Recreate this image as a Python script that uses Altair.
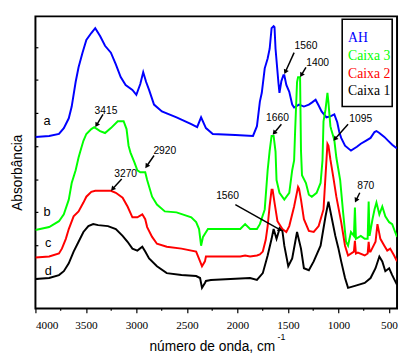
import math
import altair as alt
import pandas as pd

# ---------------- data ----------------
BLUE_W = [4000, 3864, 3767, 3719, 3670, 3641, 3602, 3573, 3534, 3496,
          3447, 3408, 3360, 3311, 3253, 3204, 3156, 3107, 3040, 3001,
          2962, 2933, 2904, 2875, 2826, 2748, 2603, 2457, 2399, 2360,
          2312, 2244, 2021, 1846, 1807, 1778, 1759, 1730, 1701, 1681,
          1662, 1642, 1633, 1623, 1594, 1584, 1565, 1545, 1536, 1516,
          1487, 1458, 1439, 1390, 1342, 1293, 1264, 1226, 1196, 1167,
          1119, 1080, 1041, 1012, 992, 973, 935, 876, 817, 779,
          730, 682, 643, 624, 595, 546, 507, 468, 430, 420]
BLUE_A = [175, 176, 178, 184, 194, 206, 231, 246, 261, 274,
          281, 286, 278, 268, 261, 249, 236, 228, 223, 218,
          229, 241, 231, 223, 208, 201, 195, 188, 185, 195,
          184, 178, 177, 176, 186, 211, 220, 245, 255, 265,
          286, 288, 287, 265, 230, 220, 232, 238, 238, 228,
          221, 208, 205, 208, 206, 208, 210, 213, 207, 201,
          195, 196, 198, 190, 180, 174, 166, 161, 165, 168,
          171, 174, 180, 181, 179, 175, 171, 167, 164, 164]

GREEN_W = [4000, 3864, 3767, 3719, 3670, 3641, 3602, 3573, 3554, 3525,
           3496, 3447, 3418, 3360, 3311, 3253, 3185, 3127, 3098, 3078,
           3059, 3020, 2991, 2962, 2913, 2894, 2845, 2797, 2719, 2603,
           2457, 2409, 2380, 2360, 2341, 2292, 1972, 1924, 1875, 1807,
           1778, 1730, 1701, 1681, 1662, 1642, 1623, 1613, 1584, 1536,
           1487, 1458, 1439, 1429, 1410, 1400, 1380, 1371, 1361, 1322,
           1293, 1264, 1216, 1177, 1158, 1148, 1128, 1109, 1099, 1080,
           1070, 1041, 1021, 983, 954, 925, 905, 876, 847, 837,
           827, 779, 740, 711, 701, 692, 663, 643, 624, 595,
           566, 536, 498, 468, 439, 420]
GREEN_A = [80, 83, 89, 96, 111, 128, 141, 154, 161, 171,
           178, 183, 185, 181, 179, 184, 191, 191, 183, 166,
           159, 149, 141, 139, 139, 131, 114, 106, 99, 98,
           93, 88, 81, 64, 73, 81, 81, 86, 81, 81,
           86, 101, 141, 161, 176, 176, 160, 131, 118, 111,
           118, 141, 151, 181, 231, 236, 236, 161, 136, 128,
           116, 114, 118, 128, 151, 191, 203, 220, 210, 186,
           182, 172, 154, 131, 98, 68, 64, 78, 74, 103,
           71, 74, 71, 71, 109, 74, 91, 101, 108, 96,
           104, 94, 88, 86, 78, 73]

RED_W = [4000, 3864, 3767, 3738, 3699, 3670, 3622, 3573, 3525, 3496,
         3447, 3408, 3253, 3204, 3137, 3088, 3040, 2991, 2942, 2913,
         2894, 2845, 2797, 2700, 2554, 2409, 2370, 2351, 2322, 2312,
         1972, 1924, 1875, 1807, 1778, 1749, 1720, 1701, 1681, 1662,
         1652, 1633, 1604, 1555, 1516, 1487, 1439, 1400, 1390, 1371,
         1342, 1293, 1245, 1196, 1148, 1119, 1109, 1099, 1080, 1051,
         1021, 973, 935, 905, 847, 837, 827, 808, 740, 711,
         701, 692, 682, 633, 614, 585, 546, 517, 488, 449, 420]
RED_A = [52, 53, 56, 61, 71, 81, 94, 99, 108, 114,
         119, 120, 120, 118, 113, 104, 93, 93, 96, 91,
         83, 73, 66, 63, 61, 58, 48, 43, 48, 53,
         53, 54, 53, 54, 55, 58, 70, 84, 105, 121,
         121, 108, 89, 81, 78, 84, 104, 124, 122, 111,
         91, 79, 78, 84, 101, 151, 168, 166, 152, 134,
         114, 88, 64, 54, 58, 69, 56, 57, 54, 56,
         68, 58, 58, 68, 86, 71, 64, 59, 61, 54, 48]

BLACK_W = [4000, 3864, 3767, 3719, 3670, 3622, 3573, 3525, 3476, 3428,
           3379, 3282, 3204, 3137, 3088, 3040, 2991, 2942, 2913, 2875,
           2797, 2700, 2554, 2409, 2370, 2351, 2322, 2312, 2263, 1875,
           1807, 1749, 1701, 1662, 1642, 1613, 1584, 1555, 1536, 1497,
           1458, 1410, 1371, 1342, 1293, 1245, 1177, 1128, 1099, 1070,
           1031, 1002, 973, 935, 905, 837, 740, 682, 633, 595,
           566, 536, 498, 468, 420]
BLACK_A = [30, 31, 34, 38, 46, 58, 68, 78, 84, 86,
           85, 84, 81, 74, 68, 61, 59, 63, 58, 51,
           43, 36, 34, 33, 31, 21, 26, 28, 29, 31,
           29, 36, 54, 71, 81, 71, 81, 79, 64, 43,
           51, 78, 61, 41, 39, 48, 64, 94, 109, 94,
           74, 62, 48, 31, 21, 23, 26, 31, 41, 53,
           48, 38, 41, 34, 24]

SERIES = ["AH", "Caixa 3", "Caixa 2", "Caixa 1"]
COLORS = ["#0000ff", "#00ff00", "#ff0000", "#000000"]

# curve letters
LETTER_TEXT = ["a", "b", "c", "d"]
LETTER_W = [3884, 3884, 3874, 3874]
LETTER_A = [191, 98, 67, 38]

# peak annotations: label position, arrow start, arrow tip
PEAK_TEXT = ["3415", "2920", "3270", "1560", "1400", "1660", "1095", "1560", "870"]
PEAK_W = [3301, 2719, 3107, 1322, 1206, 1604, 779, 2098, 730]
PEAK_A = [201, 161, 137, 268, 250, 194, 193, 115, 125]
ARROW_W1 = [3331, 2826, 3146, 1439, 1322, 1565, 905, 2021, 789]
ARROW_A1 = [198, 156, 132, 261, 246, 188, 188, 106, 118]
ARROW_W2 = [3408, 2913, 3253, 1536, 1380, 1652, 1051, 1555, 837]
ARROW_A2 = [185, 143, 120, 239, 236, 177, 171, 79, 108]

# legend entries
LEG_W = 905
LEG_A = [276, 258, 239, 222]
LEG_BOX_W = [963, 468]
LEG_BOX_A = [295, 206]

MAJOR_TICKS = [4000, 3500, 3000, 2500, 2000, 1500, 1000, 500]
MINOR_TICKS = [3750, 3250, 2750, 2250, 1750, 1250, 750]
Y_TICKS = [30, 64, 98, 131, 165, 199, 233, 266]

# ---------------- scales / axes ----------------
W_MAX, W_MIN = 4000, 420
A_MIN, A_MAX = 0, 298
PW, PH = 369, 298
SX = PW / (W_MAX - W_MIN)  # px per wavenumber unit
SY = PH / (A_MAX - A_MIN)

SERIF = "Liberation Serif, Times New Roman, serif"
SANS = "Liberation Sans, Arial, sans-serif"

x_scale = alt.Scale(domain=[W_MAX, W_MIN], nice=False, zero=False)
y_scale = alt.Scale(domain=[A_MIN, A_MAX], nice=False, zero=False)

x_axis = alt.Axis(values=MAJOR_TICKS, format="d", tickSize=4.5, tickWidth=1.2,
                  tickColor="black", labelFont=SERIF, labelFontSize=11.5,
                  labelColor="black", labelPadding=7, domain=False, grid=False,
                  title="número de onda, cm", titleFont=SANS,
                  titleFontSize=14, titleFontWeight="normal", titleColor="black",
                  titleX=180, titleY=39, titleAlign="center", titleBaseline="middle")
y_axis = alt.Axis(values=Y_TICKS, ticks=False, labels=False, domain=False, grid=False,
                  title="Absorbância", titleFont=SANS, titleFontSize=14,
                  titleFontWeight="normal", titleColor="black", titleX=-18, titleY=159,
                  titleAlign="center", titleBaseline="middle")


def X(f):
    return alt.X(f, type="quantitative", scale=x_scale, axis=x_axis)


def Y(f):
    return alt.Y(f, type="quantitative", scale=y_scale, axis=y_axis)


def curve(w, a, color):
    assert len(w) == len(a)
    df = pd.DataFrame({"w": w, "a": a, "i": list(range(len(w)))})
    return alt.Chart(df).mark_line(color=color, strokeWidth=2, clip=True).encode(
        x=X("w"), y=Y("a"), order=alt.Order("i:Q"))


layers = [
    curve(BLUE_W, BLUE_A, COLORS[0]),
    curve(GREEN_W, GREEN_A, COLORS[1]),
    curve(RED_W, RED_A, COLORS[2]),
    curve(BLACK_W, BLACK_A, COLORS[3]),
]

# inward ticks on the left axis
ytick_df = pd.DataFrame({"a": Y_TICKS, "w": [W_MAX] * len(Y_TICKS),
                         "w2": [W_MAX - 3 / SX] * len(Y_TICKS)})
layers.append(alt.Chart(ytick_df).mark_rule(color="black", strokeWidth=1.2).encode(
    x=X("w"), x2="w2", y=Y("a")))

# minor x ticks (outward, shorter)
mtick_df = pd.DataFrame({"w": MINOR_TICKS, "a": [A_MIN] * len(MINOR_TICKS),
                         "a2": [A_MIN - 2.5 / SY] * len(MINOR_TICKS)})
layers.append(alt.Chart(mtick_df).mark_rule(color="black", strokeWidth=1.2).encode(
    x=X("w"), y=Y("a"), y2="a2"))

# superscript of the x title
sup_df = pd.DataFrame({"t": ["-1"], "w": [1565], "a": [-29]})
layers.append(alt.Chart(sup_df).mark_text(font=SANS, fontSize=9,
                                          color="black").encode(
    x=X("w"), y=Y("a"), text="t:N"))

# curve letters
let_df = pd.DataFrame({"t": LETTER_TEXT, "w": LETTER_W, "a": LETTER_A})
layers.append(alt.Chart(let_df).mark_text(font=SANS, fontSize=13,
                                          color="black").encode(
    x=X("w"), y=Y("a"), text="t:N"))

# arrows
rows = []
for w1, a1, w2, a2 in zip(ARROW_W1, ARROW_A1, ARROW_W2, ARROW_A2):
    dx = -(w2 - w1) * SX
    dy = -(a2 - a1) * SY
    L = math.hypot(dx, dy)
    ux, uy = dx / L, dy / L
    ang = math.degrees(math.atan2(ux, -uy)) % 360
    back = 2.5
    wh = w2 + back * ux / SX
    ah = a2 + back * uy / SY
    rows.append({"w1": w1, "a1": a1, "wh": wh, "ah": ah, "ang": ang})
arr_df = pd.DataFrame(rows)
layers.append(alt.Chart(arr_df).mark_rule(color="black", strokeWidth=1.5).encode(
    x=X("w1"), y=Y("a1"), x2="wh", y2="ah"))
layers.append(alt.Chart(arr_df).mark_point(shape="triangle-up", filled=True, size=30,
                                           color="black", opacity=1).encode(
    x=X("wh"), y=Y("ah"), angle=alt.Angle("ang:Q", scale=None)))

peak_df = pd.DataFrame({"t": PEAK_TEXT, "w": PEAK_W, "a": PEAK_A})
layers.append(alt.Chart(peak_df).mark_text(font=SANS, fontSize=10.5,
                                           color="black").encode(
    x=X("w"), y=Y("a"), text="t:N"))

# legend box
box_df = pd.DataFrame({"w": [LEG_BOX_W[0]], "w2": [LEG_BOX_W[1]],
                       "a": [LEG_BOX_A[0]], "a2": [LEG_BOX_A[1]]})
layers.append(alt.Chart(box_df).mark_rect(fill="white", stroke="black",
                                          strokeWidth=1.6).encode(
    x=X("w"), x2="w2", y=Y("a"), y2="a2"))
leg_df = pd.DataFrame({"t": SERIES, "w": [LEG_W] * 4, "a": LEG_A})
layers.append(alt.Chart(leg_df).mark_text(font=SERIF, fontSize=14,
                                          align="left", baseline="middle").encode(
    x=X("w"), y=Y("a"), text="t:N",
    color=alt.Color("t:N", scale=alt.Scale(domain=SERIES, range=COLORS), legend=None)))

chart = alt.layer(*layers).properties(
    width=PW, height=PH,
    autosize=alt.AutoSizeParams(type="none"),
    padding={"left": 28, "top": 5, "right": 2, "bottom": 45},
    background="white",
).configure_view(stroke="black", strokeWidth=2)

chart.save("out.html", embed_options={"renderer": "svg", "actions": False})
